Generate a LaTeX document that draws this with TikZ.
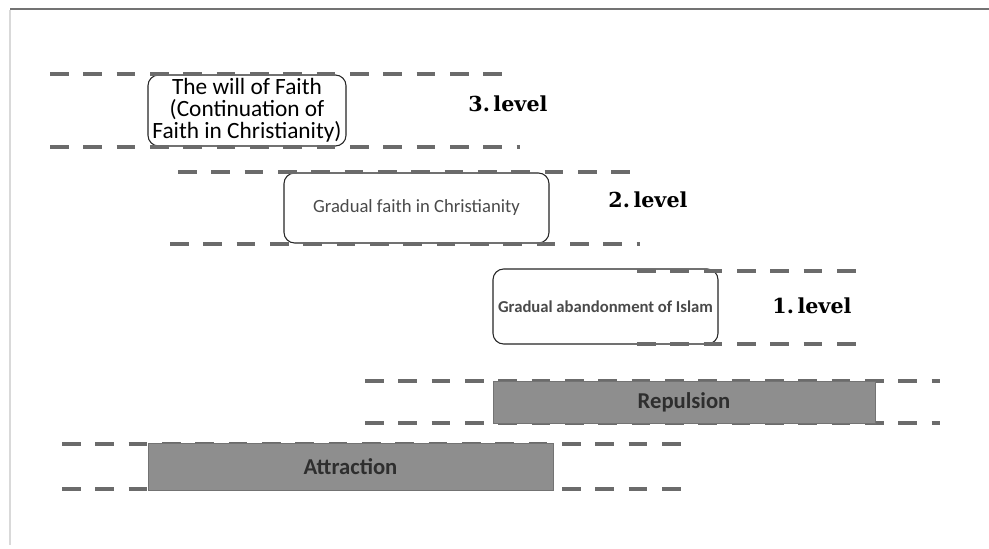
\documentclass[tikz,border=0pt]{standalone}
\usepackage{fontspec}
\setmainfont{Carlito}
\newfontfamily\slabfont{DejaVu Serif}
\usepackage{tikz}
\definecolor{guidegray}{HTML}{6B6B6B}
\definecolor{bargray}{HTML}{8E8E8E}
\definecolor{bartext}{HTML}{2E2E2E}
\definecolor{boxtext}{HTML}{4A4A4A}

\begin{document}
\begin{tikzpicture}[x=0.75pt,y=-0.75pt,
  guide/.style={draw=guidegray,line width=2.3pt,dash pattern=on 14pt off 11pt},
  levelbox/.style={draw=black!85,line width=0.8pt,rounded corners=8pt,fill=white,align=center,inner sep=0pt},
  forcebar/.style={draw=black!55,line width=0.7pt,fill=bargray,inner sep=0pt,text=bartext,font=\bfseries\fontsize{17}{20}\selectfont},
  levellabel/.style={font=\slabfont\bfseries\fontsize{15.5}{18}\selectfont}]
  \useasboundingbox (0,0) rectangle (989,549);
  \draw[black!55,line width=0.8pt] (10,9) -- (989,9);
  \draw[black!15,line width=1.2pt] (10,10) -- (10,545);

  % levels
  \node[levelbox,minimum width=198*0.75pt,minimum height=71*0.75pt,font=\fontsize{17.5}{16.5}\selectfont] (will) at (247,110.5)
    {The will of Faith\\(Continuation of\\Faith in Christianity)};
  \node[levelbox,minimum width=265*0.75pt,minimum height=70*0.75pt,text=boxtext,font=\fontsize{14}{16}\selectfont] (gradfaith) at (416.5,208)
    {Gradual faith in Christianity};
  \node[levelbox,minimum width=225*0.75pt,minimum height=75*0.75pt,text=boxtext,font=\bfseries\fontsize{12.5}{15}\selectfont] (abandon) at (605.5,306.5)
    {Gradual abandonment of Islam};
  \node[levellabel] (lvl3) at (508,104) {3.\,level};
  \node[levellabel] (lvl2) at (648,200) {2.\,level};
  \node[levellabel] (lvl1) at (812,306) {1.\,level};

  \draw[guide] (50,74) -- (510,74);
  \draw[guide] (50,147) -- (520,147);
  \draw[guide] (178,172) -- (632,172);
  \draw[guide] (170,244) -- (640,244);
  \draw[guide] (637,271) -- (858,271);
  \draw[guide] (637,344) -- (858,344);
  \draw[guide] (365,381) -- (940,381);
  \draw[guide] (365,423) -- (940,423);
  \draw[guide] (62,444) -- (690,444);
  \draw[guide] (62,489) -- (690,489);

  % forces
  \node[forcebar,minimum width=382*0.75pt,minimum height=42*0.75pt] (repulsion) at (684,402) {Repulsion};
  \node[forcebar,minimum width=405*0.75pt,minimum height=47*0.75pt] (attraction) at (350.5,466.5) {Attraction};
\end{tikzpicture}
\end{document}
